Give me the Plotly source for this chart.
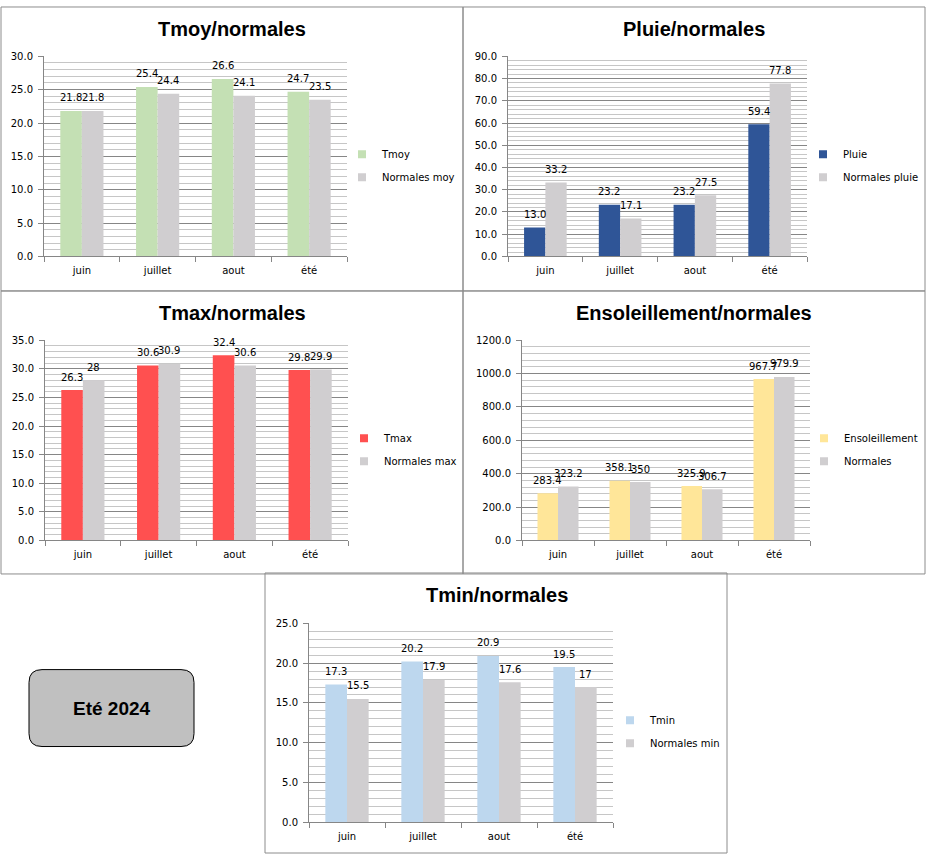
import plotly.graph_objects as go

W, H = 927, 860

categories = ["juin", "juillet", "aout", "été"]

tmoy = [21.8, 25.4, 26.6, 24.7]
normales_moy = [21.8, 24.4, 24.1, 23.5]

pluie = [13.0, 23.2, 23.2, 59.4]
normales_pluie = [33.2, 17.1, 27.5, 77.8]

tmax = [26.3, 30.6, 32.4, 29.8]
normales_max = [28, 30.9, 30.6, 29.9]

ensoleillement = [283.4, 358.1, 325.9, 967.7]
normales_sun = [323.2, 350, 306.7, 979.9]

tmin = [17.3, 20.2, 20.9, 19.5]
normales_min = [15.5, 17.9, 17.6, 17]

GREY = "#d0ced0"
FONT = "DejaVu Sans"
BARGAP = 0.43

panels = [
    dict(title="Tmoy/normales", names=["Tmoy", "Normales moy"], vals=[tmoy, normales_moy],
         colors=["#c4e0b4", GREY], ymax=30, dt=5, mdt=1,
         plot=(44, 347, 51, 254), border=(1, 463, 1, 289), tc=(232, 23), leg=(342, 162)),
    dict(title="Pluie/normales", names=["Pluie", "Normales pluie"], vals=[pluie, normales_pluie],
         colors=["#2f5597", GREY], ymax=90, dt=10, mdt=2,
         plot=(508, 807, 51, 254), border=(463, 925, 1, 289), tc=(694, 23), leg=(803, 162)),
    dict(title="Tmax/normales", names=["Tmax", "Normales max"], vals=[tmax, normales_max],
         colors=["#ff5050", GREY], ymax=35, dt=5, mdt=1,
         plot=(45, 348, 339, 542), border=(1, 463, 289, 576), tc=(232, 311), leg=(344, 450)),
    dict(title="Ensoleillement/normales", names=["Ensoleillement", "Normales"],
         vals=[ensoleillement, normales_sun],
         colors=["#ffe699", GREY], ymax=1200, dt=200, mdt=40,
         plot=(522, 810, 339, 542), border=(463, 925, 289, 576), tc=(694, 311), leg=(804, 450)),
    dict(title="Tmin/normales", names=["Tmin", "Normales min"], vals=[tmin, normales_min],
         colors=["#bdd7ee", GREY], ymax=25, dt=5, mdt=1,
         plot=(309, 613, 626, 828), border=(265, 727, 575, 859), tc=(497, 597), leg=(610, 736)),
]


def px(x):
    return x / W


def py(y):
    return 1 - y / H


fig = go.Figure()
layout = dict(
    width=W, height=H, margin=dict(l=0, r=0, t=0, b=0),
    paper_bgcolor="white", plot_bgcolor="white",
    barmode="group", bargap=BARGAP, bargroupgap=0,
    font=dict(family=FONT, size=10, color="black"),
    showlegend=True,
)
shapes = []
annotations = []

for i, p in enumerate(panels):
    n = "" if i == 0 else str(i + 1)
    xa, ya = "x" + n, "y" + n
    leg = "legend" + n
    x0, x1, yt, yb = p["plot"]
    barw = (x1 - x0) / 4 * (1 - BARGAP) / 2
    for k in range(2):
        fig.add_trace(go.Bar(
            x=categories, y=p["vals"][k], name=p["names"][k],
            marker=dict(color=p["colors"][k], line=dict(width=0)),
            xaxis=xa, yaxis=ya, showlegend=False,
            hoverinfo="skip",
        ))
        # legend entry with a small square key
        fig.add_trace(go.Scatter(
            x=[None], y=[None], mode="markers", name=p["names"][k],
            marker=dict(symbol="square", size=8, color=p["colors"][k]),
            xaxis=xa, yaxis=ya, legend=leg, legendgroup=p["names"][k],
            showlegend=True, hoverinfo="skip",
        ))
        for c, v in zip(categories, p["vals"][k]):
            annotations.append(dict(
                text=str(v), x=c, y=v, xref=xa, yref=ya,
                xanchor="center", yanchor="bottom", showarrow=False,
                xshift=(k - 0.5) * barw, yshift=6.5, borderpad=0,
                font=dict(family=FONT, size=10, color="black"),
            ))
    layout["xaxis" + n] = dict(
        domain=[px(x0), px(x1)], anchor=ya, type="category",
        showline=True, linecolor="#868686", linewidth=1,
        ticks="outside", tickson="boundaries", ticklen=5, tickcolor="#868686",
        ticklabelstandoff=5,
        showgrid=False, tickfont=dict(family=FONT, size=10),
    )
    layout["yaxis" + n] = dict(
        domain=[py(yb), py(yt)], anchor=xa, range=[0, p["ymax"]],
        dtick=p["dt"], tick0=0, tickformat=".1f",
        showline=True, linecolor="#868686", linewidth=1,
        ticks="outside", ticklen=5, tickcolor="#868686",
        ticklabelstandoff=3,
        showgrid=True, gridcolor="#868686", gridwidth=1,
        minor=dict(dtick=p["mdt"], showgrid=True, gridcolor="#c6c6c6", gridwidth=1, ticks=""),
        zeroline=False, tickfont=dict(family=FONT, size=10),
    )
    lx, lc = p["leg"]
    layout[leg] = dict(
        x=px(lx), y=py(lc), xanchor="left", yanchor="middle",
        bgcolor="rgba(0,0,0,0)", font=dict(family=FONT, size=10),
        tracegroupgap=4, itemwidth=30,
    )
    bx0, bx1, by0, by1 = p["border"]
    shapes.append(dict(type="rect", xref="paper", yref="paper",
                       x0=px(bx0), x1=px(bx1), y0=py(by1), y1=py(by0),
                       line=dict(color="#8c8c8c", width=1), fillcolor="rgba(0,0,0,0)",
                       layer="below"))
    tx, ty = p["tc"]
    annotations.append(dict(text="<b>%s</b>" % p["title"], xref="paper", yref="paper",
                            x=px(tx), y=py(ty), xanchor="center", yanchor="middle",
                            showarrow=False,
                            font=dict(family="Liberation Sans", size=20, color="black")))

# rounded "Eté 2024" box
bx0, bx1, by0, by1, r = 29, 194, 673, 751, 13
rx, ry = r / W, r / H
X0, X1, Y0, Y1 = px(bx0), px(bx1), py(by1), py(by0)
path = (f"M {X0+rx},{Y0} L {X1-rx},{Y0} Q {X1},{Y0} {X1},{Y0+ry} "
        f"L {X1},{Y1-ry} Q {X1},{Y1} {X1-rx},{Y1} L {X0+rx},{Y1} "
        f"Q {X0},{Y1} {X0},{Y1-ry} L {X0},{Y0+ry} Q {X0},{Y0} {X0+rx},{Y0} Z")
shapes.append(dict(type="path", path=path, xref="paper", yref="paper",
                   fillcolor="#c0c0c0", line=dict(color="black", width=1)))
annotations.append(dict(text="<b>Eté 2024</b>", xref="paper", yref="paper",
                        x=px((bx0 + bx1) / 2), y=py((by0 + by1) / 2),
                        xanchor="center", yanchor="middle", showarrow=False,
                        font=dict(family="Liberation Sans", size=19, color="black")))

layout["shapes"] = shapes
layout["annotations"] = annotations
fig.update_layout(**layout)
fig.write_html(
    "out.html",
    config={"displayModeBar": False},
    post_script=(
        "document.documentElement.style.margin='0';"
        "document.body.style.margin='0';document.body.style.padding='0';"
        "document.documentElement.style.overflow='hidden';"
        "var gd=document.getElementById('{plot_id}');"
        "gd.style.position='fixed';gd.style.top='0px';gd.style.left='0px';"
    ),
)
